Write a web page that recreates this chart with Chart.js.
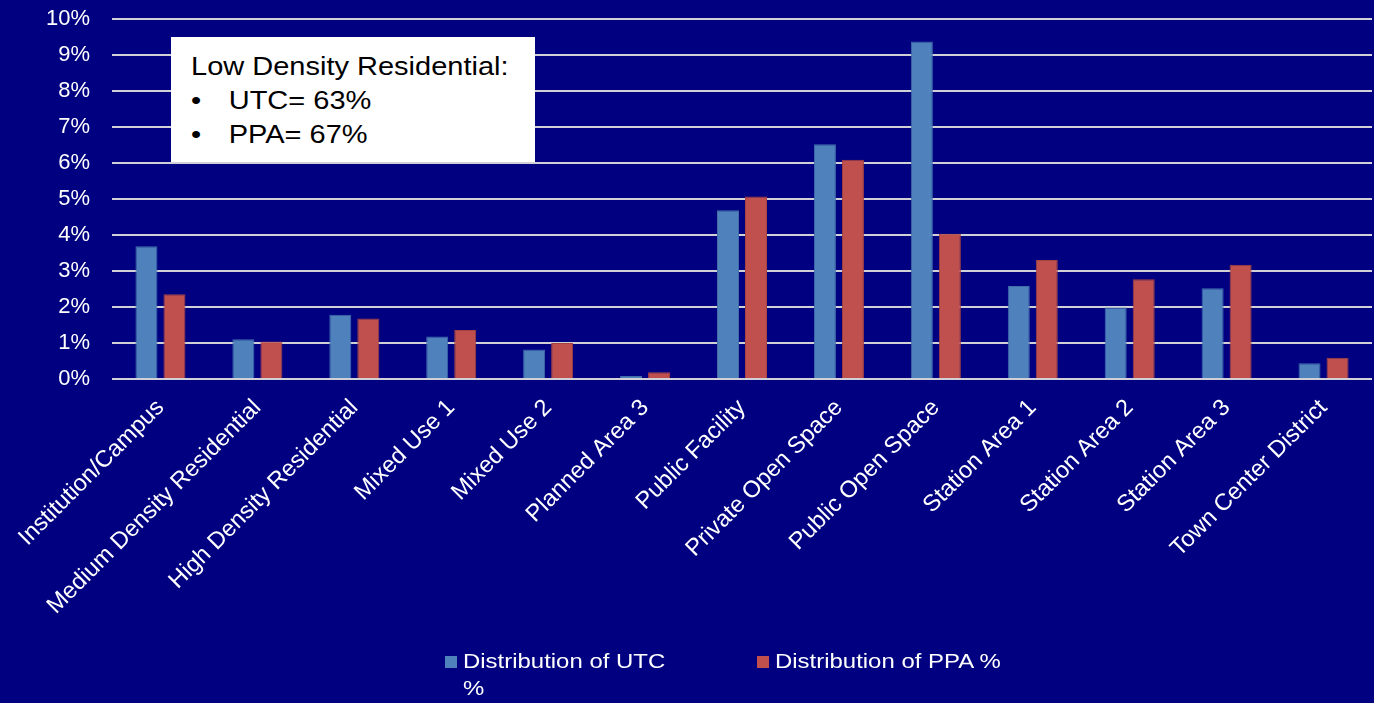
<!DOCTYPE html>
<html>
<head>
<meta charset="utf-8">
<script src="https://cdn.jsdelivr.net/npm/chart.js@4.4.0/dist/chart.umd.min.js"></script>
<style>
  html, body { margin: 0; padding: 0; background: #000080; }
  #wrap { position: relative; width: 1374px; height: 703px; background: #000080; overflow: hidden; }
  #c { position: absolute; left: 0; top: 0; }
  #note { position: absolute; left: 171px; top: 37px; width: 364px; height: 125px; background: #ffffff; }
  #noteText { position: absolute; left: 20px; top: 12px; font-family: "Liberation Sans", Arial, sans-serif; font-size: 25px; line-height: 34px; color: #000; transform: scaleX(1.16); transform-origin: left top; white-space: nowrap; }
  #noteText .b { display: inline-block; width: 32.5px; }
  #legend { position: absolute; left: 0; top: 0; width: 100%; height: 100%; pointer-events: none; }
  .li { position: absolute; top: 647px; font-family: "Liberation Sans", Arial, sans-serif; font-size: 21px; line-height: 27px; color: #fff; }
  .li .sw { position: absolute; top: 9px; width: 12px; height: 12px; }
  .li .tx { position: absolute; left: 18px; top: 0; transform: scaleX(1.14); transform-origin: left top; }
</style>
</head>
<body>
<div id="wrap">
  <canvas id="c" width="1374" height="703"></canvas>
  <div id="note"><div id="noteText"></div></div>
  <div id="legend"></div>
</div>
<script>
const categories = ['Institution/Campus','Medium Density Residential','High Density Residential','Mixed Use 1','Mixed Use 2','Planned Area 3','Public Facility','Private Open Space','Public Open Space','Station Area 1','Station Area 2','Station Area 3','Town Center District'];
const utcValues = [3.68, 1.10, 1.78, 1.18, 0.82, 0.08, 4.68, 6.51, 9.36, 2.58, 1.98, 2.52, 0.44];
const ppaValues = [2.35, 1.04, 1.68, 1.36, 1.00, 0.19, 5.06, 6.08, 4.03, 3.30, 2.77, 3.17, 0.59];
const seriesNames = ['Distribution of UTC %', 'Distribution of PPA %'];
const yTicks = [0,1,2,3,4,5,6,7,8,9,10];
const noteTitle = 'Low Density Residential:';
const noteItems = ['UTC= 63%', 'PPA= 67%'];

const colors = ['#4F81BD', '#C0504D'];
const borders = ['#3F6EA8', '#A5423F'];

// note box
const nt = document.getElementById('noteText');
let html = '<div>' + noteTitle + '</div>';
noteItems.forEach(t => { html += '<div><span class="b">•</span>' + t + '</div>'; });
nt.innerHTML = html;

// legend
const lg = document.getElementById('legend');
const legendLeft = [445, 757];
const legendMaxW = [185, null];
seriesNames.forEach((n, i) => {
  const d = document.createElement('div');
  d.className = 'li';
  d.style.left = legendLeft[i] + 'px';
  const sw = document.createElement('div');
  sw.className = 'sw';
  sw.style.background = colors[i];
  const tx = document.createElement('div');
  tx.className = 'tx';
  tx.textContent = n;
  if (legendMaxW[i]) { tx.style.width = legendMaxW[i] + 'px'; } else { tx.style.whiteSpace = 'nowrap'; }
  d.appendChild(sw); d.appendChild(tx);
  lg.appendChild(d);
});

const font = "'Liberation Sans', Arial, sans-serif";
new Chart(document.getElementById('c'), {
  type: 'bar',
  data: {
    labels: categories,
    datasets: [
      { label: seriesNames[0], data: utcValues, backgroundColor: colors[0], borderColor: borders[0], borderWidth: 1, categoryPercentage: 0.578, barPercentage: 0.786 },
      { label: seriesNames[1], data: ppaValues, backgroundColor: colors[1], borderColor: borders[1], borderWidth: 1, categoryPercentage: 0.578, barPercentage: 0.786 }
    ]
  },
  options: {
    responsive: false,
    devicePixelRatio: 1,
    animation: false,
    layout: { padding: { top: 18.5, left: 0, right: 2, bottom: 64 } },
    plugins: { legend: { display: false }, tooltip: { enabled: false } },
    scales: {
      x: {
        grid: { display: false, drawTicks: false },
        border: { display: false },
        ticks: { color: '#ffffff', font: { family: font, size: 23.5 }, maxRotation: 45, minRotation: 45, padding: 15, autoSkip: false },
        afterFit: s => { s.height = 260; }
      },
      y: {
        min: 0, max: 10,
        afterBuildTicks: s => { s.ticks = yTicks.map(v => ({ value: v })); },
        grid: { color: '#d0d0d6', lineWidth: 2, drawTicks: false },
        border: { display: false },
        ticks: { color: '#ffffff', font: { family: font, size: 22 }, padding: 22, callback: v => v + '%' },
        afterFit: s => { s.width = 112; s.paddingTop = 0; s.paddingBottom = 0; }
      }
    }
  }
});
</script>
</body>
</html>
